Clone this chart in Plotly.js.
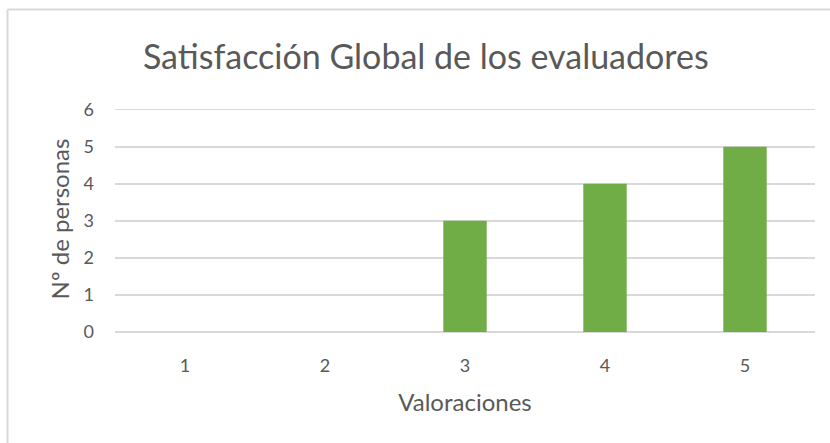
<!DOCTYPE html>
<html>
<head>
<meta charset="utf-8">
<script src="https://cdn.plot.ly/plotly-3.0.1.min.js"></script>
<style>
html,body{margin:0;padding:0;background:#fff;}
#chart{width:830px;height:443px;}
</style>
</head>
<body>
<div id="chart"></div>
<script>
const categories = ['1', '2', '3', '4', '5'];
const personas = [0, 0, 3, 4, 5];
const yTicks = [0, 1, 2, 3, 4, 5, 6];

const FONT = 'Lato, "Open Sans", sans-serif';
const TXT = '#595959';

const trace = {
  type: 'bar',
  x: categories,
  y: personas,
  marker: {color: '#70ad47'},
  hoverinfo: 'x+y'
};

const PH = 226; // plot height in px (margin t=106, b=111)

const layout = {
  width: 830,
  height: 443,
  margin: {l: 115, r: 15, t: 106, b: 111},
  paper_bgcolor: '#ffffff',
  plot_bgcolor: '#ffffff',
  bargap: 0.69,
  showlegend: false,
  font: {family: FONT, color: TXT},
  title: {
    text: 'Satisfacción Global de los evaluadores',
    font: {family: FONT, size: 34, color: TXT},
    x: 0.513, xanchor: 'center',
    y: 0.872, yanchor: 'middle'
  },
  xaxis: {
    type: 'category',
    showgrid: false,
    zeroline: false,
    showline: false,
    ticks: '',
    ticklabelstandoff: 21,
    tickfont: {family: FONT, size: 18, color: TXT},
    title: {text: 'Valoraciones', font: {family: FONT, size: 24, color: TXT}, standoff: 19}
  },
  yaxis: {
    range: [0, 6.1],
    tickvals: yTicks,
    showgrid: true,
    gridcolor: '#d9d9d9',
    gridwidth: 1.5,
    zeroline: true,
    zerolinecolor: '#d9d9d9',
    zerolinewidth: 2,
    showline: false,
    ticks: '',
    ticklabelstandoff: 20,
    tickfont: {family: FONT, size: 18, color: TXT},
    title: {text: 'Nº de personas', font: {family: FONT, size: 24, color: TXT}, standoff: 7}
  },
  shapes: [
    {type: 'line', xref: 'paper', yref: 'paper',
     x0: (7.5 - 115) / 700, x1: (830 - 115) / 700,
     y0: (332 - 9.5) / PH, y1: (332 - 9.5) / PH,
     line: {color: '#d9d9d9', width: 2}},
    {type: 'line', xref: 'paper', yref: 'paper',
     x0: (7.5 - 115) / 700, x1: (7.5 - 115) / 700,
     y0: (332 - 9.5) / PH, y1: (332 - 443) / PH,
     line: {color: '#d9d9d9', width: 2}}
  ]
};

Plotly.newPlot('chart', [trace], layout, {displayModeBar: false, staticPlot: true});
</script>
</body>
</html>
